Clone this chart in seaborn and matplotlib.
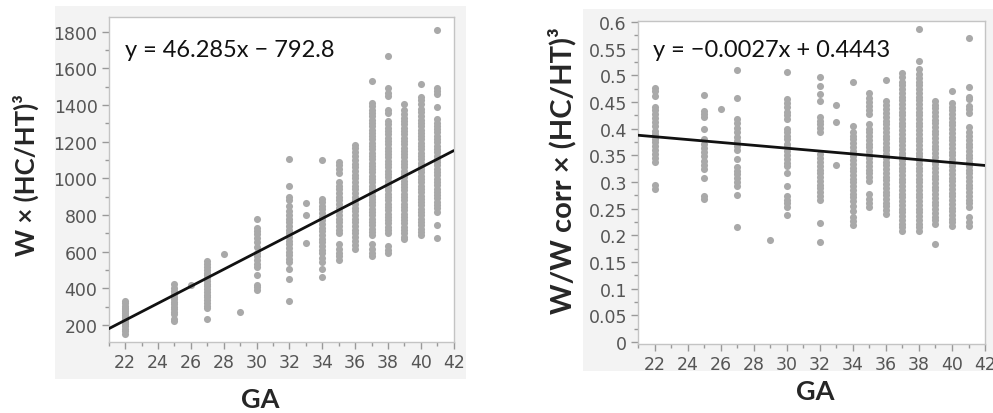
import numpy as np
import pandas as pd
import matplotlib.pyplot as plt
import seaborn as sns
from matplotlib.ticker import MultipleLocator, FuncFormatter
from matplotlib.patches import Rectangle

# ---------------------------------------------------------------
# data (one list per GA column)
# ---------------------------------------------------------------
ga_w = [22, 25, 26, 27, 28, 29, 30, 32, 33, 34, 35, 36, 37, 38, 39, 40, 41]
w_vals = [
    [150, 165, 180, 195, 205, 215, 225, 235, 245, 255, 265, 275, 285, 295, 305, 318, 330],
    [222, 232, 260, 272, 285, 300, 312, 325, 340, 355, 370, 385, 400, 425],
    [420],
    [230, 290, 305, 320, 335, 350, 365, 380, 395, 410, 425, 440, 455, 470, 485, 500, 515, 530, 548],
    [588],
    [272],
    [390, 405, 420, 470, 515, 535, 555, 575, 595, 625, 655, 675, 695, 715, 730, 780],
    [330, 450, 505, 545, 560, 580, 600, 620, 640, 660, 680, 700, 720, 740, 760, 780, 800, 820,
     850, 880, 900, 960, 1108],
    [648, 802, 865],
    [462, 505, 545, 565, 590, 610, 630, 650, 670, 690, 710, 730, 750, 770, 790, 810, 830, 850,
     870, 888, 1098],
    [555, 575, 595, 615, 640, 700, 720, 740, 760, 780, 800, 820, 840, 860, 880, 900, 920, 940,
     960, 980, 1030, 1050, 1070, 1090],
    [615, 635, 660, 680, 700, 720, 740, 760, 780, 800, 820, 840, 860, 880, 900, 920, 940, 960,
     980, 1000, 1020, 1040, 1060, 1080, 1100, 1120, 1145, 1165, 1182],
    [575, 595, 615, 640, 690, 708, 726, 744, 762, 780, 798, 816, 834, 852, 870, 888, 906, 924,
     942, 960, 978, 996, 1014, 1032, 1050, 1068, 1086, 1104, 1122, 1140, 1158, 1176, 1194, 1212,
     1230, 1248, 1266, 1284, 1302, 1320, 1338, 1356, 1374, 1392, 1410, 1530],
    [590, 610, 628, 700, 718, 736, 754, 772, 790, 808, 826, 844, 862, 880, 898, 916, 934, 952,
     970, 988, 1006, 1024, 1042, 1060, 1078, 1096, 1114, 1132, 1150, 1168, 1186, 1204, 1222,
     1240, 1258, 1276, 1294, 1315, 1355, 1372, 1448, 1468, 1490, 1665],
    [668, 682, 700, 718, 736, 754, 772, 790, 808, 826, 844, 862, 880, 898, 916, 934, 952, 970,
     988, 1006, 1024, 1042, 1060, 1078, 1096, 1114, 1132, 1150, 1168, 1186, 1204, 1222, 1240,
     1258, 1276, 1294, 1312, 1330, 1350, 1370, 1408],
    [690, 708, 726, 744, 762, 780, 798, 816, 834, 852, 870, 888, 906, 924, 942, 960, 978, 996,
     1014, 1032, 1050, 1068, 1086, 1104, 1122, 1140, 1158, 1176, 1194, 1212, 1230, 1248, 1266,
     1284, 1302, 1320, 1340, 1360, 1380, 1408, 1428, 1446, 1517],
    [675, 743, 818, 836, 854, 872, 890, 908, 926, 944, 962, 980, 998, 1016, 1034, 1052, 1070,
     1088, 1106, 1124, 1142, 1160, 1178, 1196, 1214, 1232, 1250, 1268, 1286, 1304, 1326, 1391,
     1462, 1476, 1490, 1808],
]
fit_w = [46.285, -792.8]

ga_r = [22, 25, 26, 27, 29, 30, 32, 33, 34, 35, 36, 37, 38, 39, 40, 41]
r_vals = [
    [0.286, 0.294, 0.337, 0.345, 0.352, 0.36, 0.367, 0.374, 0.381, 0.389, 0.396, 0.405, 0.412,
     0.42, 0.427, 0.434, 0.44, 0.462, 0.47, 0.477],
    [0.268, 0.274, 0.307, 0.324, 0.332, 0.34, 0.348, 0.356, 0.364, 0.372, 0.381, 0.40, 0.422,
     0.428, 0.433, 0.463],
    [0.436],
    [0.216, 0.276, 0.293, 0.3, 0.307, 0.314, 0.321, 0.328, 0.343, 0.36, 0.368, 0.376, 0.384,
     0.394, 0.402, 0.41, 0.418, 0.457, 0.51],
    [0.191],
    [0.238, 0.253, 0.26, 0.267, 0.274, 0.293, 0.317, 0.33, 0.336, 0.343, 0.35, 0.358, 0.365,
     0.372, 0.38, 0.386, 0.393, 0.4, 0.418, 0.425, 0.432, 0.44, 0.448, 0.455, 0.506],
    [0.187, 0.223, 0.266, 0.274, 0.281, 0.288, 0.295, 0.302, 0.309, 0.316, 0.323, 0.33, 0.337,
     0.344, 0.352, 0.394, 0.401, 0.408, 0.415, 0.422, 0.452, 0.465, 0.48, 0.496],
    [0.332, 0.413, 0.445],
    [0.219, 0.226, 0.235, 0.246, 0.255, 0.264, 0.271, 0.278, 0.285, 0.292, 0.299, 0.306, 0.313,
     0.32, 0.327, 0.334, 0.341, 0.348, 0.358, 0.366, 0.373, 0.38, 0.387, 0.394, 0.404, 0.488],
    [0.253, 0.26, 0.268, 0.277, 0.302, 0.309, 0.316, 0.323, 0.33, 0.337, 0.344, 0.351, 0.358,
     0.365, 0.372, 0.379, 0.386, 0.393, 0.4, 0.409, 0.427, 0.435, 0.442, 0.45, 0.458, 0.467],
    [0.24, 0.247, 0.254, 0.261, 0.268, 0.275, 0.282, 0.289, 0.296, 0.303, 0.31, 0.317, 0.324,
     0.331, 0.338, 0.345, 0.352, 0.359, 0.366, 0.373, 0.38, 0.387, 0.394, 0.401, 0.408, 0.415,
     0.422, 0.429, 0.436, 0.444, 0.452, 0.491],
    [0.208, 0.215, 0.222, 0.229, 0.236, 0.243, 0.25, 0.257, 0.264, 0.271, 0.278, 0.285, 0.292,
     0.299, 0.306, 0.313, 0.32, 0.327, 0.334, 0.341, 0.348, 0.355, 0.362, 0.369, 0.376, 0.383,
     0.39, 0.397, 0.404, 0.411, 0.418, 0.425, 0.432, 0.439, 0.446, 0.453, 0.46, 0.467, 0.474,
     0.481, 0.488, 0.496, 0.504],
    [0.208, 0.215, 0.222, 0.229, 0.236, 0.243, 0.25, 0.257, 0.264, 0.271, 0.278, 0.285, 0.292,
     0.299, 0.306, 0.313, 0.32, 0.327, 0.334, 0.341, 0.348, 0.355, 0.362, 0.369, 0.376, 0.383,
     0.39, 0.397, 0.404, 0.411, 0.418, 0.425, 0.432, 0.439, 0.446, 0.453, 0.46, 0.467, 0.474,
     0.481, 0.488, 0.495, 0.503, 0.512, 0.527, 0.587],
    [0.184, 0.221, 0.228, 0.235, 0.242, 0.249, 0.256, 0.263, 0.27, 0.277, 0.284, 0.291, 0.298,
     0.305, 0.312, 0.319, 0.326, 0.333, 0.34, 0.347, 0.354, 0.361, 0.368, 0.375, 0.382, 0.389,
     0.396, 0.403, 0.41, 0.417, 0.424, 0.431, 0.438, 0.445, 0.452],
    [0.217, 0.224, 0.231, 0.238, 0.245, 0.252, 0.259, 0.266, 0.273, 0.28, 0.287, 0.294, 0.301,
     0.308, 0.315, 0.322, 0.329, 0.336, 0.343, 0.35, 0.357, 0.364, 0.371, 0.378, 0.385, 0.392,
     0.399, 0.406, 0.413, 0.42, 0.427, 0.434, 0.441, 0.448, 0.47],
    [0.218, 0.225, 0.234, 0.253, 0.26, 0.267, 0.274, 0.281, 0.288, 0.295, 0.302, 0.309, 0.316,
     0.323, 0.33, 0.337, 0.344, 0.351, 0.358, 0.365, 0.372, 0.379, 0.386, 0.393, 0.403, 0.43,
     0.436, 0.442, 0.455, 0.46, 0.479, 0.57],
]
fit_r = [-0.0027, 0.4443]


def to_long(ga, cols):
    rows = [(g, v) for g, col in zip(ga, cols) for v in col]
    return pd.DataFrame(rows, columns=["GA", "val"])


sns.set_theme(style="white")
plt.rcParams["font.family"] = ["DejaVu Sans"]

fig = plt.figure(figsize=(9.93, 4.14), dpi=100)
fig.patches.append(Rectangle((0.0554, 0.082), 0.414, 0.901, transform=fig.transFigure,
                             facecolor="#f3f3f3", edgecolor="none", zorder=-5))
fig.patches.append(Rectangle((0.587, 0.101), 0.413, 0.874, transform=fig.transFigure,
                             facecolor="#f3f3f3", edgecolor="none", zorder=-5))

ax1 = fig.add_axes([0.1094, 0.1715, 0.3476, 0.785])
ax2 = fig.add_axes([0.6425, 0.1667, 0.3495, 0.7803])

panels = [
    (ax1, to_long(ga_w, w_vals), fit_w, (107, 1880), 200, 100, "y = 46.285x \u2212 792.8",
     (0.047, 0.90)),
    (ax2, to_long(ga_r, r_vals), fit_r, (-0.004, 0.602), 0.05, 0.025, "y = \u22120.0027x + 0.4443",
     (0.043, 0.913)),
]

xs = np.array([21, 42])
for ax, df, fit, ylim, ymaj, ymin, eq, eqpos in panels:
    ax.set_facecolor("white")
    sns.scatterplot(data=df, x="GA", y="val", ax=ax, color="#a9a9a9", s=26,
                    linewidth=0, zorder=2)
    sns.lineplot(x=xs, y=np.polyval(fit, xs), ax=ax, color="#111111", lw=2, zorder=3)
    ax.set_xlim(21, 42)
    ax.set_ylim(*ylim)
    ax.xaxis.set_major_locator(MultipleLocator(2))
    ax.xaxis.set_minor_locator(MultipleLocator(1))
    ax.yaxis.set_major_locator(MultipleLocator(ymaj))
    ax.yaxis.set_minor_locator(MultipleLocator(ymin))
    ax.yaxis.set_major_formatter(FuncFormatter(lambda v, _: f"{round(v, 3):g}"))
    ax.tick_params(which="both", direction="out", color="#999999", width=1,
                   bottom=True, left=True, labelcolor="#555555", labelsize=12.5)
    ax.tick_params(which="major", length=5, pad=3)
    ax.tick_params(which="minor", length=3)
    for sp in ax.spines.values():
        sp.set_color("#c4c4c4")
        sp.set_linewidth(1)
    ax.text(eqpos[0], eqpos[1], eq, transform=ax.transAxes, ha="left", va="center",
            fontsize=17, family=["Lato", "DejaVu Sans"], color="#111111")
    ax.set_xlabel("")
    ax.set_ylabel("")

# axis titles placed at their positions in the figure
fig.text(0.0262, 0.577, "W \u00d7 (HC/HT)\u00b3", rotation=90, ha="center", va="center",
         fontsize=18.5, fontweight="bold", family=["Lato", "DejaVu Sans"])
fig.text(0.5657, 0.589, "W/W corr \u00d7 (HC/HT)\u00b3", rotation=90, ha="center", va="center",
         fontsize=21, fontweight="bold", family=["Lato", "DejaVu Sans"])
fig.text(0.262, 0.034, "GA", ha="center", va="center", fontsize=19.5, fontweight="bold",
         family=["Lato", "DejaVu Sans"])
fig.text(0.821, 0.053, "GA", ha="center", va="center", fontsize=19.5, fontweight="bold",
         family=["Lato", "DejaVu Sans"])

fig.savefig("out.png", dpi=100)
